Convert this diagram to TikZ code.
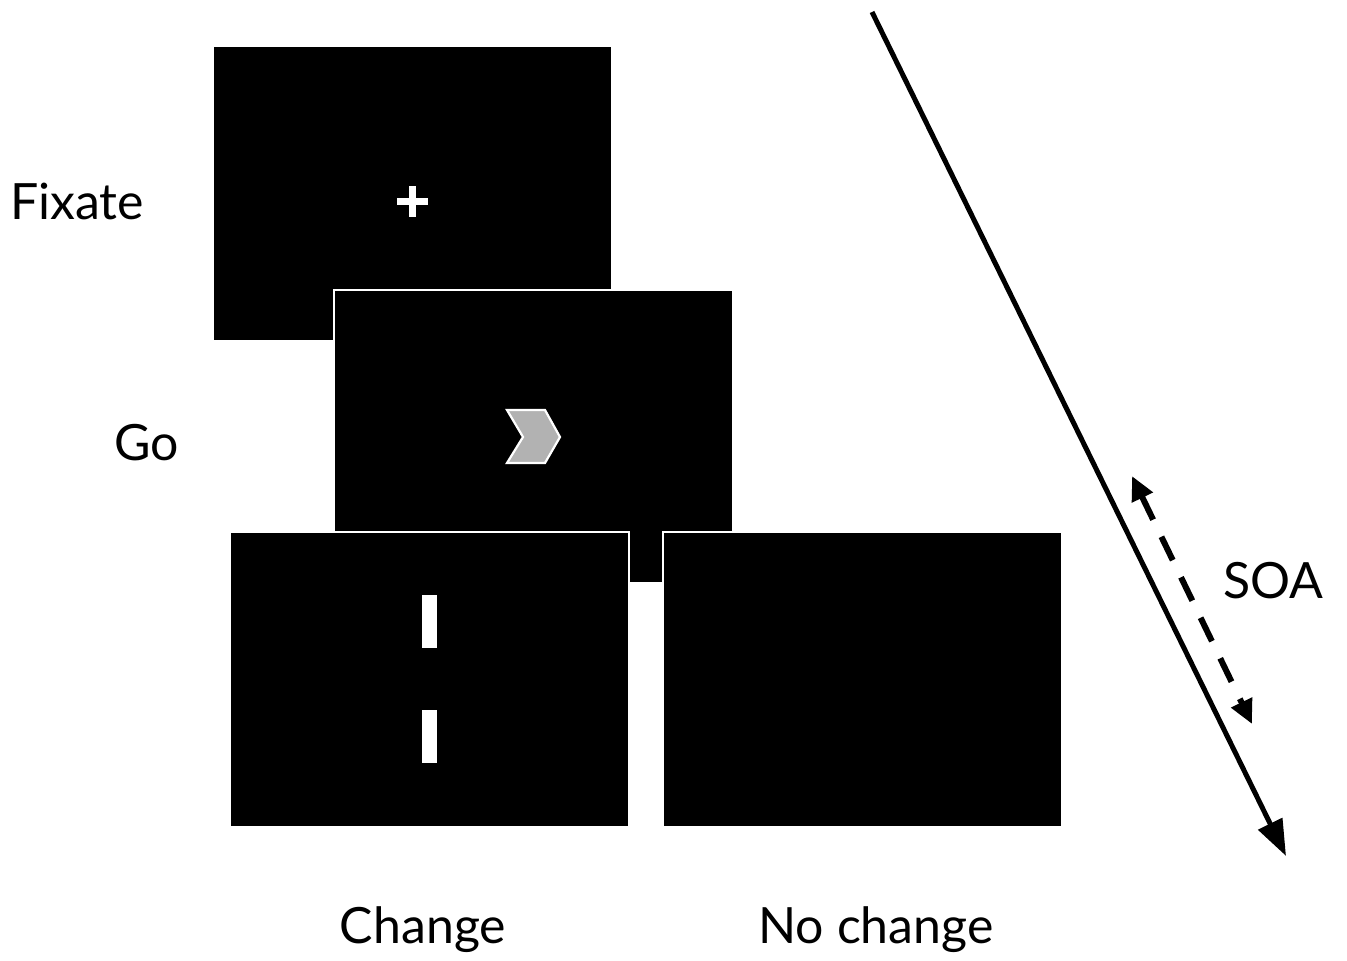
\documentclass[tikz,border=0pt]{standalone}
\usepackage{fontspec}
\setmainfont{Lato}
\usetikzlibrary{arrows.meta}
\begin{document}
\begin{tikzpicture}[x=1pt,y=-1pt,
  screen/.style={fill=black,draw=white,line width=2.2pt},
  lbl/.style={font=\fontsize{50}{60}\selectfont,inner sep=0pt},
  bar/.style={fill=white,draw=none}]
\useasboundingbox (0,0) rectangle (1347,961);
% screens
\fill[black] (214,47) rectangle (611,340);
\draw[screen] (334,290) rectangle (733,583);
\draw[screen] (230,532) rectangle (629,827);
\draw[screen] (663,532) rectangle (1062,827);
% fixation cross
\fill[white] (397,197.5) rectangle (428,205);
\fill[white] (408.8,186) rectangle (416.2,217);
% chevron
\draw[fill=black!30,draw=white,line width=2.2pt,line join=miter]
  (507,410) -- (545,410) -- (560,437) -- (545,463) -- (507,463) -- (523,437) -- cycle;
% bars
\fill[bar] (422,595) rectangle (437,648);
\fill[bar] (422,710) rectangle (437,763);
% labels
\node[lbl,anchor=west] (lfix) at (10,201) {Fixate};
\node[lbl,anchor=west] (lgo) at (114,443) {Go};
\node[lbl] (lch) at (423,930) {Change};
\node[lbl] (lnc) at (876,930) {No change};
\node[lbl,anchor=west] (lsoa) at (1223,581) {SOA};
% time arrow
\coordinate (t0) at (872,12);
\coordinate (t1) at (1286,856);
\draw[line width=5pt,-{Triangle[length=36pt,width=26pt]}] (t0) -- (t1);
% SOA arrow
\coordinate (s0) at (1132,476);
\coordinate (s1) at (1252,724);
\draw[line width=6pt,dash pattern=on 26pt off 19pt,{Triangle[length=24pt,width=22pt]}-{Triangle[length=24pt,width=22pt]}] (s0) -- (s1);
\end{tikzpicture}
\end{document}
